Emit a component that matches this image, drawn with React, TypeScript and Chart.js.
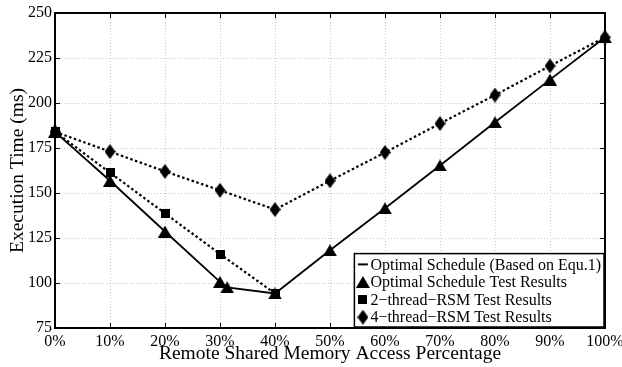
import React, { useEffect, useRef } from 'react';
import { Chart, registerables } from 'chart.js';

Chart.register(...registerables);

// ---- data ----
const xTickValues = [0, 10, 20, 30, 40, 50, 60, 70, 80, 90, 100];
const yTickValues = [75, 100, 125, 150, 175, 200, 225, 250];

const optimalX = [0, 10, 20, 30, 31.3, 40, 50, 60, 70, 80, 90, 100];
const optimalY = [184, 156.8, 128.6, 100.6, 97.6, 94.2, 118.2, 141.5, 165.3, 189.3, 213, 236.5];

const rsm2X = [0, 10, 20, 30, 40];
const rsm2Y = [184, 161.3, 138.7, 116.1, 94.2];

const rsm4X = [0, 10, 20, 30, 40, 50, 60, 70, 80, 90, 100];
const rsm4Y = [184, 173, 162, 151.5, 140.8, 156.8, 172.5, 188.6, 204.4, 220.6, 236.5];

const seriesLabels = [
  'Optimal Schedule (Based on Equ.1)',
  'Optimal Schedule Test Results',
  '2\u2212thread\u2212RSM Test Results',
  '4\u2212thread\u2212RSM Test Results',
];

const xTitle = 'Remote Shared Memory Access Percentage';
const yTitle = 'Execution Time (ms)';

const FONT = "'Liberation Serif', 'Times New Roman', serif";

function makeMarker(kind: string): HTMLCanvasElement {
  const c = document.createElement('canvas');
  let w = 10, h = 10;
  if (kind === 'triangle') { w = 14; h = 12; }
  if (kind === 'square') { w = 9; h = 9; }
  if (kind === 'diamond') { w = 11; h = 15; }
  c.width = w; c.height = h;
  const g = c.getContext('2d')!;
  g.fillStyle = '#000';
  g.beginPath();
  if (kind === 'triangle') {
    g.moveTo(w / 2, 0); g.lineTo(w, h); g.lineTo(0, h);
  } else if (kind === 'square') {
    g.rect(0, 0, w, h);
  } else {
    g.moveTo(w / 2, 0); g.lineTo(w, h / 2); g.lineTo(w / 2, h); g.lineTo(0, h / 2);
  }
  g.closePath();
  g.fill();
  return c;
}

export default function App() {
  const ref = useRef<HTMLCanvasElement>(null);
  useEffect(() => {
    document.body.style.margin = '0';
    const tri = makeMarker('triangle');
    const sq = makeMarker('square');
    const dia = makeMarker('diamond');

    const framePlugin = {
      id: 'frame',
      beforeDatasetsDraw(chart: any) {
        const { ctx, chartArea: a, scales } = chart;
        ctx.save();
        ctx.strokeStyle = '#000';
        ctx.lineWidth = 1;
        const tl = 5;
        ctx.beginPath();
        for (const v of xTickValues) {
          const px = Math.round(scales.x.getPixelForValue(v)) + 0.5;
          ctx.moveTo(px, a.bottom); ctx.lineTo(px, a.bottom - tl);
          ctx.moveTo(px, a.top); ctx.lineTo(px, a.top + tl);
        }
        for (const v of yTickValues) {
          const py = Math.round(scales.y.getPixelForValue(v)) + 0.5;
          ctx.moveTo(a.left, py); ctx.lineTo(a.left + tl, py);
          ctx.moveTo(a.right, py); ctx.lineTo(a.right - tl, py);
        }
        ctx.stroke();
        ctx.lineWidth = 2;
        ctx.strokeRect(a.left, a.top, a.right - a.left, a.bottom - a.top);
        ctx.restore();
      },
    };

    const legendPlugin = {
      id: 'boxLegend',
      afterDatasetsDraw(chart: any) {
        const { ctx, chartArea: a } = chart;
        ctx.save();
        ctx.font = `16px ${FONT}`;
        const rowH = 17.6;
        let maxW = 0;
        for (const s of seriesLabels) maxW = Math.max(maxW, ctx.measureText(s).width);
        const boxW = 16 + maxW + 3;
        const boxH = rowH * 4 + 3;
        const bx = a.right - 1 - boxW;
        const by = a.bottom - 1 - boxH;
        ctx.fillStyle = '#fff';
        ctx.fillRect(bx, by, boxW, boxH);
        ctx.strokeStyle = '#000';
        ctx.lineWidth = 1.5;
        ctx.strokeRect(bx, by, boxW, boxH);
        const mx = bx + 8.5;
        for (let i = 0; i < 4; i++) {
          const cy = by + 2 + rowH * (i + 0.5);
          if (i === 0) {
            ctx.lineWidth = 2;
            ctx.beginPath();
            ctx.moveTo(mx - 5, cy); ctx.lineTo(mx + 5, cy);
            ctx.stroke();
          } else {
            const img = i === 1 ? tri : i === 2 ? sq : dia;
            ctx.drawImage(img, mx - img.width / 2, cy - img.height / 2);
          }
          ctx.fillStyle = '#000';
          ctx.textBaseline = 'middle';
          ctx.textAlign = 'left';
          ctx.fillText(seriesLabels[i], bx + 16, cy + 1);
        }
        ctx.restore();
      },
    };

    const chart = new Chart(ref.current!, {
      type: 'line',
      data: {
        datasets: [
          {
            label: seriesLabels[0],
            data: optimalX.map((x, i) => ({ x, y: optimalY[i] })),
            borderColor: '#000',
            borderWidth: 1.8,
            pointRadius: 0,
            clip: false,
            order: 3,
          },
          {
            label: seriesLabels[1],
            data: optimalX.map((x, i) => ({ x, y: optimalY[i] })),
            showLine: false,
            pointStyle: tri,
            pointRadius: 7,
            backgroundColor: '#000',
            borderColor: '#000',
            clip: false,
            order: 0,
          },
          {
            label: seriesLabels[2],
            data: rsm2X.map((x, i) => ({ x, y: rsm2Y[i] })),
            borderColor: '#000',
            borderWidth: 2.2,
            borderDash: [2.5, 2.5],
            pointStyle: sq,
            pointRadius: 5,
            backgroundColor: '#000',
            clip: false,
            order: 1,
          },
          {
            label: seriesLabels[3],
            data: rsm4X.map((x, i) => ({ x, y: rsm4Y[i] })),
            borderColor: '#000',
            borderWidth: 2.2,
            borderDash: [2.5, 2.5],
            pointStyle: dia,
            pointRadius: 7,
            backgroundColor: '#000',
            clip: false,
            order: 2,
          },
        ] as any,
      },
      options: {
        animation: false,
        responsive: false,
        devicePixelRatio: 1,
        layout: { padding: { left: 0, right: 17, top: 13, bottom: 0 } },
        plugins: { legend: { display: false }, tooltip: { enabled: false } },
        scales: {
          x: {
            type: 'linear',
            min: 0,
            max: 100,
            afterFit: (s: any) => { s.height = 39; s.paddingLeft = 0; s.paddingRight = 0; },
            afterBuildTicks: (s: any) => { s.ticks = xTickValues.map((v) => ({ value: v })); },
            ticks: {
              color: '#000',
              padding: 4,
              maxRotation: 0,
              autoSkip: false,
              font: { family: FONT, size: 16 },
              callback: (v: any) => `${v}%`,
            },
            grid: { color: '#c8c8c8', lineWidth: 1, drawTicks: false },
            border: { display: false, dash: [1, 2] },
            title: {
              display: true,
              text: xTitle,
              color: '#000',
              font: { family: FONT, size: 19.5 },
              padding: { top: 0, bottom: 1 },
            },
          },
          y: {
            type: 'linear',
            min: 75,
            max: 250,
            afterFit: (s: any) => { s.width = 55; s.paddingTop = 0; s.paddingBottom = 0; },
            afterBuildTicks: (s: any) => { s.ticks = yTickValues.map((v) => ({ value: v })); },
            ticks: {
              color: '#000',
              padding: 3,
              autoSkip: false,
              font: { family: FONT, size: 16 },
            },
            grid: { color: '#c8c8c8', lineWidth: 1, drawTicks: false },
            border: { display: false, dash: [1, 2] },
            title: {
              display: true,
              text: yTitle,
              color: '#000',
              font: { family: FONT, size: 19.5 },
              padding: { top: 6, bottom: 0 },
            },
          },
        },
      } as any,
      plugins: [framePlugin, legendPlugin],
    });
    return () => chart.destroy();
  }, []);

  return (
    <div style={{ width: 622, height: 367, background: '#fff' }}>
      <canvas ref={ref} width={622} height={367} />
    </div>
  );
}
